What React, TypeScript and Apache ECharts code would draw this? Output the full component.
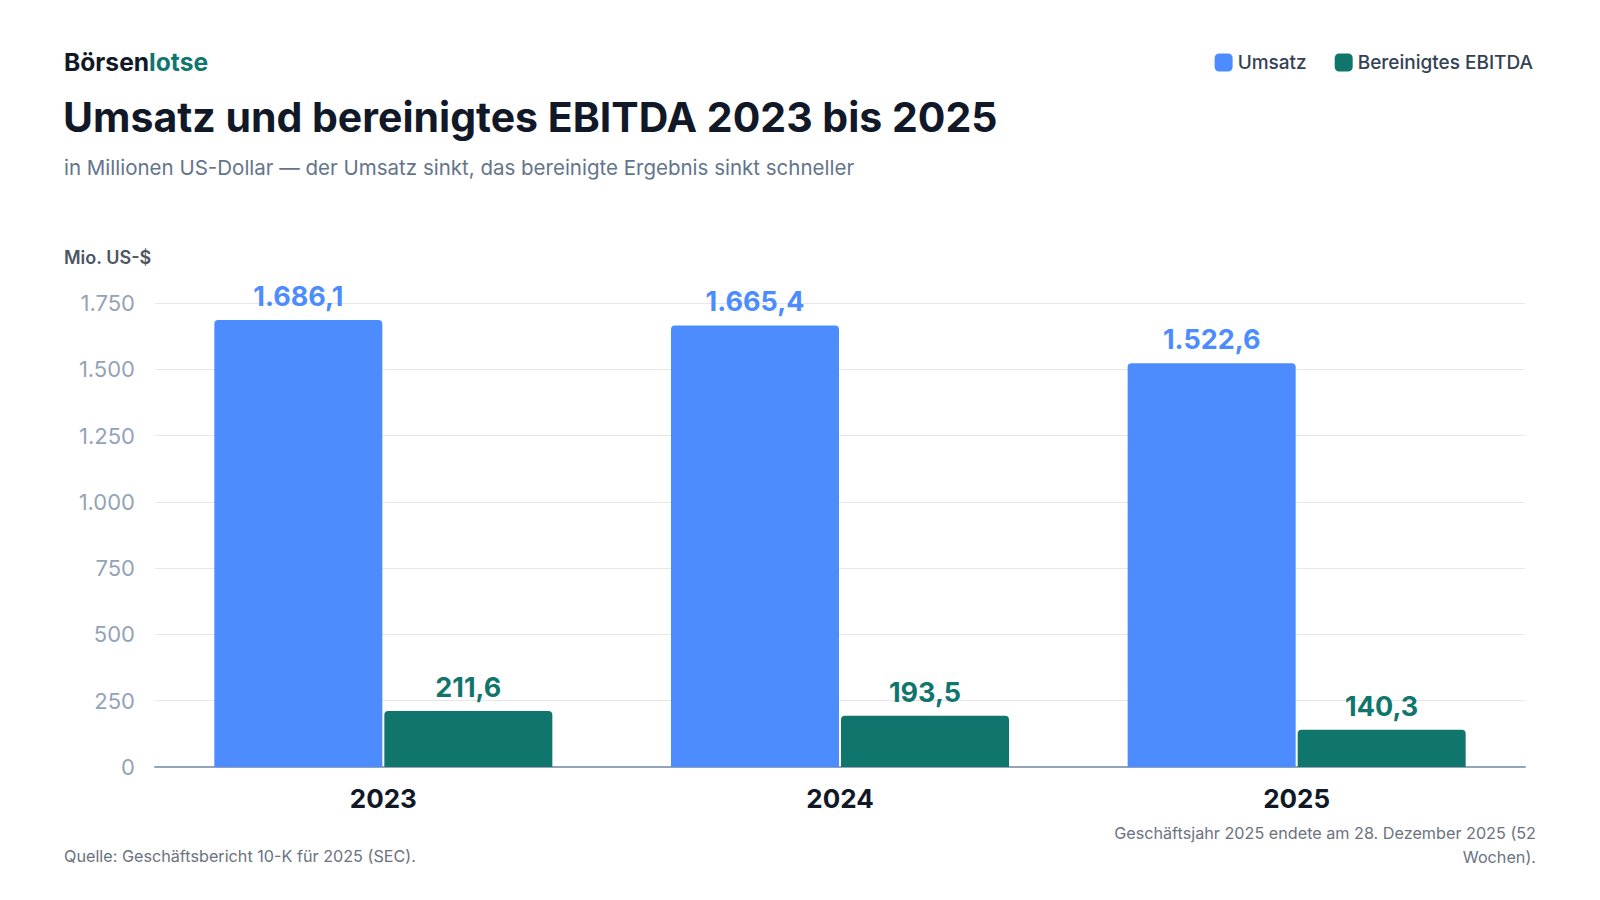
import * as echarts from "echarts";
import React, { useEffect, useRef } from "react";

const years = ["2023", "2024", "2025"];
const umsatz = [1686.1, 1665.4, 1522.6];
const ebitda = [211.6, 193.5, 140.3];
const yTicks = [0, 250, 500, 750, 1000, 1250, 1500, 1750];

const FONT = "Inter, 'Noto Sans', sans-serif";
const BLUE = "#4c8cff";
const GREEN = "#10766d";

// German number format: thousands with ".", decimals with ","
function fmtDe(v: number, decimals: number) {
	const fixed = v.toFixed(decimals);
	const [intPart, dec] = fixed.split(".");
	const withDots = intPart.replace(/\B(?=(\d{3})+(?!\d))/g, ".");
	return dec ? withDots + "," + dec : withDots;
}

export default function App() {
	const ref = useRef<HTMLDivElement>(null);

	useEffect(() => {
		const chart = echarts.init(ref.current, null, { renderer: "svg" });
		chart.setOption({
			animation: false,
			backgroundColor: "#ffffff",
			textStyle: { fontFamily: FONT },
			legend: {
				top: 48,
				right: 62,
				icon: "roundRect",
				itemWidth: 18,
				itemHeight: 18,
				itemGap: 28,
				textStyle: { fontSize: 19, color: "#334155", fontWeight: 500, fontFamily: FONT },
				data: ["Umsatz", "Bereinigtes EBITDA"],
			},
			graphic: [
				{
					type: "text",
					left: 64,
					top: 49,
					style: {
						text: "{a|Börsen}{b|lotse}",
						rich: {
							a: { fontSize: 24.6, fontWeight: 700, fill: "#111827", fontFamily: FONT },
							b: { fontSize: 24.6, fontWeight: 700, fill: "#0f766e", fontFamily: FONT },
						},
					},
				},
				{
					type: "text",
					left: 63,
					top: 96,
					style: {
						text: "Umsatz und bereinigtes EBITDA 2023 bis 2025",
						fontSize: 41,
						fontWeight: 700,
						fill: "#111827",
						fontFamily: FONT,
					},
				},
				{
					type: "text",
					left: 64,
					top: 157,
					style: {
						text: "in Millionen US-Dollar — der Umsatz sinkt, das bereinigte Ergebnis sinkt schneller",
						fontSize: 20.5,
						fill: "#64748b",
						fontFamily: FONT,
					},
				},
				{
					type: "text",
					left: 64,
					top: 248,
					style: {
						text: "Mio. US-$",
						fontSize: 18,
						fontWeight: 600,
						fill: "#4b5563",
						fontFamily: FONT,
					},
				},
				{
					type: "text",
					left: 64,
					top: 848,
					style: {
						text: "Quelle: Geschäftsbericht 10-K für 2025 (SEC).",
						fontSize: 16.2,
						fill: "#6b7280",
						fontFamily: FONT,
					},
				},
				{
					type: "text",
					x: 1536,
					y: 821,
					style: {
						text: "Geschäftsjahr 2025 endete am 28. Dezember 2025 (52\nWochen).",
						fontSize: 16.2,
						lineHeight: 24,
						align: "right",
						verticalAlign: "top",
						fill: "#6b7280",
						fontFamily: FONT,
					},
				},
			],
			grid: {
				left: 155,
				right: 75,
				top: 303,
				bottom: 133,
				containLabel: false,
			},
			xAxis: {
				type: "category",
				data: years,
				axisTick: { show: false },
				axisLine: { lineStyle: { color: "#94a3b8", width: 2 } },
				axisLabel: {
					fontSize: 26,
					fontWeight: 700,
					color: "#111827",
					margin: 18,
					fontFamily: FONT,
				},
			},
			yAxis: {
				type: "value",
				min: 0,
				max: yTicks[yTicks.length - 1],
				interval: 250,
				axisLine: { show: false },
				axisTick: { show: false },
				splitLine: { lineStyle: { color: "#e5e7eb", width: 1 } },
				axisLabel: {
					fontSize: 22,
					color: "#94a3b8",
					margin: 20,
					fontFamily: FONT,
					formatter: (v: number) => fmtDe(v, 0),
				},
			},
			series: [
				{
					name: "Umsatz",
					type: "bar",
					data: umsatz,
					barWidth: 168,
					barGap: "1.2%",
					itemStyle: { color: BLUE, borderRadius: [4, 4, 0, 0] },
					label: {
						show: true,
						position: "top",
						distance: 10,
						fontSize: 27,
						fontWeight: 700,
						color: BLUE,
						fontFamily: FONT,
						formatter: (p: any) => fmtDe(p.value, 1),
					},
				},
				{
					name: "Bereinigtes EBITDA",
					type: "bar",
					data: ebitda,
					barWidth: 168,
					itemStyle: { color: GREEN, borderRadius: [4, 4, 0, 0] },
					label: {
						show: true,
						position: "top",
						distance: 10,
						fontSize: 27,
						fontWeight: 700,
						color: GREEN,
						fontFamily: FONT,
						formatter: (p: any) => fmtDe(p.value, 1),
					},
				},
			],
		});
		return () => chart.dispose();
	}, []);

	return (
		<div
			ref={ref}
			style={{ position: "fixed", left: 0, top: 0, width: 1600, height: 900 }}
		/>
	);
}
